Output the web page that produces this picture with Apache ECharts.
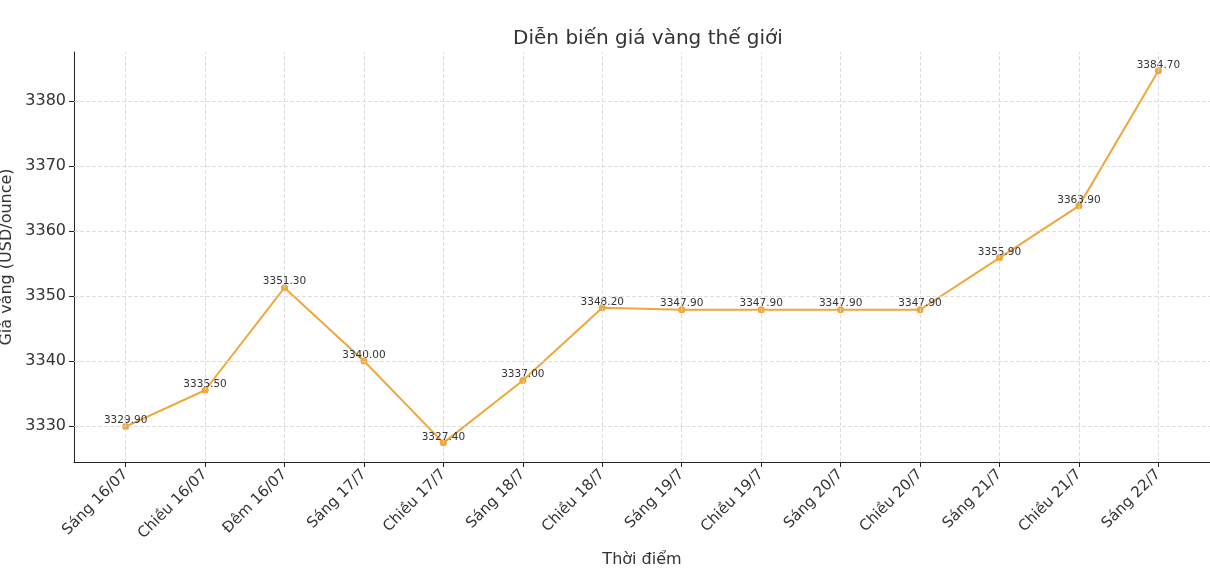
<!DOCTYPE html>
<html><head><meta charset="utf-8">
<script src="https://cdn.jsdelivr.net/npm/echarts@6/dist/echarts.min.js"></script>
<style>html,body{margin:0;padding:0;background:#fff}#c{width:1210px;height:586px}</style>
</head><body><div id="c"></div>
<script>
const categories=["Sáng 16/07","Chiều 16/07","Đêm 16/07","Sáng 17/7","Chiều 17/7","Sáng 18/7","Chiều 18/7","Sáng 19/7","Chiều 19/7","Sáng 20/7","Chiều 20/7","Sáng 21/7","Chiều 21/7","Sáng 22/7"];
const prices=[3329.9,3335.5,3351.3,3340.0,3327.4,3337.0,3348.2,3347.9,3347.9,3347.9,3347.9,3355.9,3363.9,3384.7];
const yTicks=[3330,3340,3350,3360,3370,3380];
const idx=categories.map((c,i)=>i);
const chart=echarts.init(document.getElementById('c'));
const font='DejaVu Sans';
chart.setOption({
  animation:false,
  textStyle:{fontFamily:font},
  title:{text:'Diễn biến giá vàng thế giới',left:643,top:24,textAlign:'center',textStyle:{fontSize:20,fontWeight:'normal',color:'#333',fontFamily:font}},
  grid:{left:74,right:0,top:52,bottom:124,containLabel:false,outerBoundsMode:'none'},
  xAxis:{type:'value',min:-0.65,max:13.65,name:'Thời điểm',nameLocation:'middle',nameGap:90,
    nameTextStyle:{fontSize:16,color:'#333'},
    axisLine:{show:true,onZero:false,lineStyle:{color:'#222'}},
    axisTick:{show:true,customValues:idx,length:5,lineStyle:{color:'#222'}},
    axisLabel:{customValues:idx,rotate:45,fontSize:15,color:'#333',margin:10,formatter:v=>categories[Math.round(v)]},
    splitLine:{show:false}},
  yAxis:{type:'value',min:3324.45,max:3387.6,name:'Giá vàng (USD/ounce)',nameLocation:'middle',nameGap:56,
    nameTextStyle:{fontSize:16,color:'#333'},
    axisLine:{show:true,onZero:false,lineStyle:{color:'#222'}},
    axisTick:{show:true,customValues:yTicks,length:5,lineStyle:{color:'#222'}},
    axisLabel:{customValues:yTicks,fontSize:16,color:'#333',formatter:v=>String(Math.round(v))},
    splitLine:{show:false}},
  series:[
   {type:'line',data:prices.map((p,i)=>[i,p]),color:'#f0a73c',lineStyle:{width:2},symbol:'circle',symbolSize:7,z:3,
    label:{show:true,position:'top',distance:-3,fontSize:10.5,color:'#333',formatter:p=>p.value[1].toFixed(2)}},
   {type:'line',data:[],markLine:{silent:true,symbol:'none',label:{show:false},
     lineStyle:{color:'#d6d6d6',type:[4,2],width:0.8},
     data:[...idx.map(i=>({xAxis:i})),...yTicks.map(v=>({yAxis:v}))]}}
  ]
});
</script></body></html>
